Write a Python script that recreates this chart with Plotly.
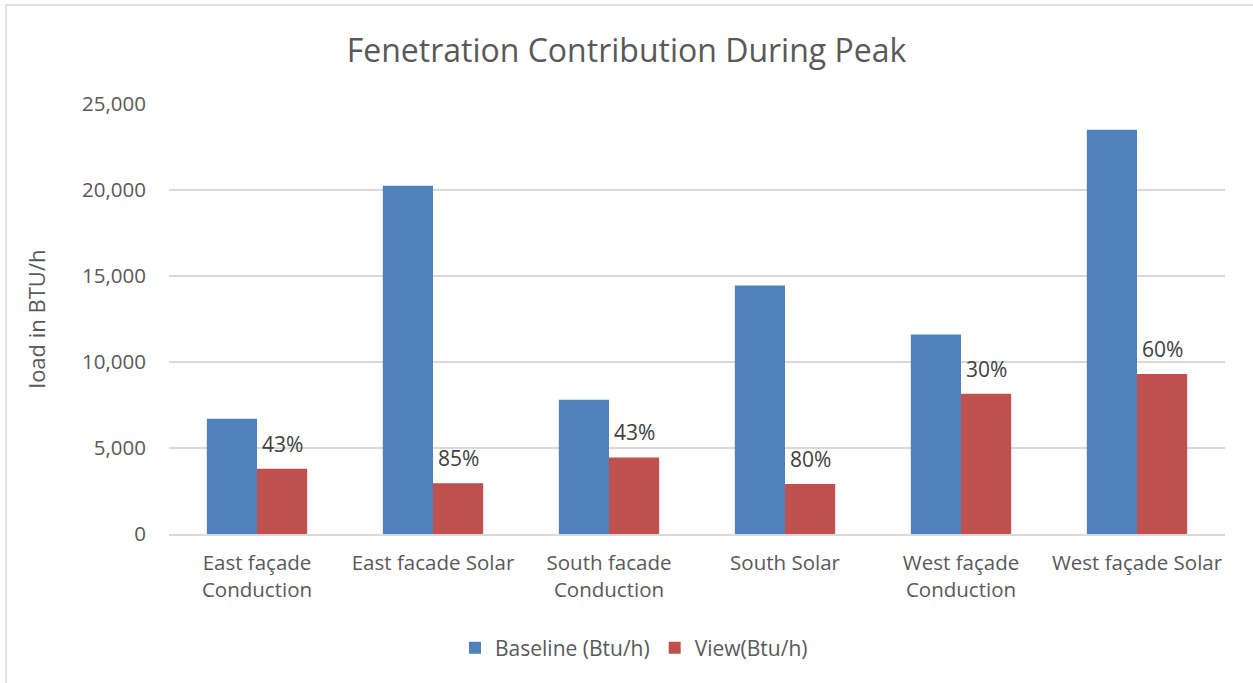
"""Fenestration contribution during peak - grouped bar chart."""

import plotly.graph_objects as go

# ---------------------------------------------------------------------------
# Data
# ---------------------------------------------------------------------------

categories = [
    "East façade<br>Conduction",
    "East facade Solar",
    "South facade<br>Conduction",
    "South Solar",
    "West façade<br>Conduction",
    "West façade Solar",
]
baseline = [6700, 20250, 7800, 14450, 11600, 23500]
view = [3800, 2950, 4450, 2900, 8150, 9300]
view_labels = ["43%", "85%", "43%", "80%", "30%", "60%"]

y_ticks = [0, 5000, 10000, 15000, 20000, 25000]

# ---------------------------------------------------------------------------
# Theme
# ---------------------------------------------------------------------------

BLUE = "#4F81BD"
RED = "#C0504D"
TEXT = "#595959"
LABEL = "#404040"
GRID = "#D9D9D9"
FONT = "Open Sans, Noto Sans, sans-serif"

W, H = 1253, 683
L, R, T, B = 169, 28, 104, 149
BARGAP = 0.43

fig = go.Figure()
fig.add_trace(go.Bar(
    x=categories, y=baseline, name="Baseline (Btu/h)",
    marker=dict(color=BLUE, line=dict(width=0)),
))
fig.add_trace(go.Bar(
    x=categories, y=view, name="View(Btu/h)",
    marker=dict(color=RED, line=dict(width=0)),
))

# percentage labels above the View bars (offset half a bar to the right)
pw, ph = W - L - R, H - T - B
half_bar = pw / len(categories) * (1 - BARGAP) / 4
for cat, val, lab in zip(categories, view, view_labels):
    fig.add_annotation(
        x=cat, y=val, text=lab, showarrow=False,
        xshift=half_bar, yanchor="bottom", yshift=9,
        font=dict(size=21, color=LABEL, family=FONT),
    )

# outer chart border: only the top and left edges are visible
fig.add_shape(
    type="rect", xref="paper", yref="paper",
    x0=(6 - L) / pw, x1=(W + 10 - L) / pw,
    y0=(H - B - (H + 10)) / ph, y1=(H - B - 5) / ph,
    line=dict(color=GRID, width=1.5), layer="below",
)

fig.update_layout(
    width=W, height=H,
    margin=dict(l=L, r=R, t=T, b=B, autoexpand=False),
    paper_bgcolor="white", plot_bgcolor="white",
    font=dict(family=FONT, color=TEXT, size=20),
    title=dict(
        text="Fenetration Contribution During Peak",
        x=0.5, xanchor="center", y=1 - 51 / H, yanchor="middle",
        font=dict(size=32, color=TEXT, family=FONT),
    ),
    barmode="group", bargap=BARGAP, bargroupgap=0,
    showlegend=True,
    legend=dict(
        orientation="h", x=(634 - L) / pw, xanchor="center",
        y=-(648 - (H - B)) / ph, yanchor="middle",
        font=dict(size=21, color=TEXT), bgcolor="rgba(0,0,0,0)",
        itemwidth=30,
    ),
    xaxis=dict(
        showgrid=False, showline=True, linecolor=GRID, linewidth=1.5,
        ticks="", tickfont=dict(size=20.5, color=TEXT),
        ticklabelstandoff=10,
    ),
    yaxis=dict(
        range=[0, 25000], tickvals=y_ticks, tickformat=",",
        showgrid=True, gridcolor=GRID, gridwidth=1.5,
        zeroline=False, showline=False, ticks="",
        tickfont=dict(size=20.5, color=TEXT),
        ticklabelstandoff=22,
        title=dict(text="load in BTU/h", font=dict(size=22, color=TEXT), standoff=30),
    ),
)

fig.write_html(
    "out.html",
    config={"displayModeBar": False},
    post_script="document.body.style.margin='0';",
)
